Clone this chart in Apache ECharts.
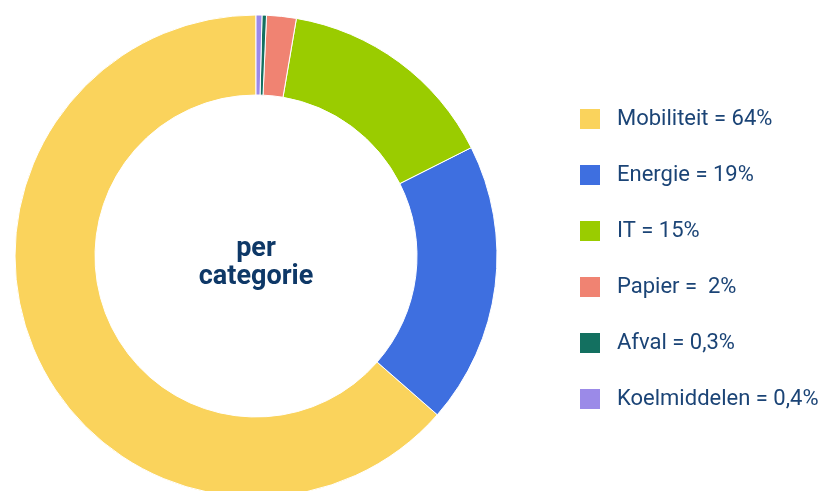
<!DOCTYPE html>
<html>
<head>
<meta charset="utf-8">
<script src="https://cdn.jsdelivr.net/npm/echarts@6/dist/echarts.min.js"></script>
<style>
  html, body { margin: 0; padding: 0; background: #fff; }
  #chart { width: 822px; height: 491px; }
</style>
</head>
<body>
<div id="chart"></div>
<script>
const categories = ['Mobiliteit', 'Energie', 'IT', 'Papier', 'Afval', 'Koelmiddelen']
const values = [64, 19, 15, 2, 0.3, 0.4]
const shares = ['64%', '19%', '15%', ' 2%', '0,3%', '0,4%']
const colors = ['#fad35c', '#3e6fe0', '#9acc00', '#f08372', '#137060', '#9b8ae8']

const myChart = echarts.init(document.getElementById('chart'))

myChart.setOption({
  color: colors,
  title: {
    text: 'per\ncategorie',
    left: 256,
    top: 235,
    padding: 0,
    textAlign: 'center',
    textStyle: {
      color: '#0e3867',
      fontFamily: 'Roboto',
      fontWeight: 'bold',
      fontSize: 27,
      lineHeight: 28,
    },
  },
  legend: {
    orient: 'vertical',
    left: 573,
    top: 102,
    itemWidth: 22,
    itemHeight: 22,
    itemGap: 32,
    icon: 'rect',
    formatter: function (name) {
      const i = categories.indexOf(name)
      return name + ' = ' + shares[i]
    },
    textStyle: {
      color: '#1b4476',
      fontFamily: 'Roboto',
      fontSize: 22,
      lineHeight: 22,
      padding: [0, 0, 0, 11],
    },
  },
  series: [
    {
      type: 'pie',
      center: [256, 256],
      radius: [161, 241],
      startAngle: 90,
      clockwise: false,
      silent: true,
      label: { show: false },
      labelLine: { show: false },
      itemStyle: {
        borderColor: '#fff',
        borderWidth: 1,
      },
      data: categories.map(function (c, i) {
        return { name: c, value: values[i] }
      }),
    },
  ],
})
</script>
</body>
</html>
